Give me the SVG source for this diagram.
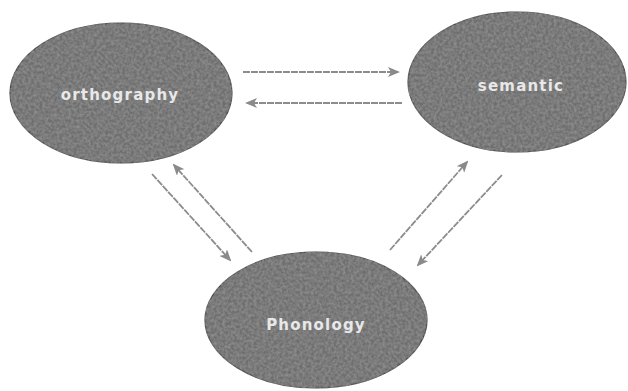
<svg xmlns="http://www.w3.org/2000/svg" width="628" height="391" viewBox="0 0 628 391">
  <defs>
    <filter id="grain" x="-5%" y="-5%" width="110%" height="110%">
      <feTurbulence type="fractalNoise" baseFrequency="0.35" numOctaves="2" seed="3" result="noise"/>
      <feColorMatrix in="noise" type="matrix" values="0 0 0 0 0.3  0 0 0 0 0.3  0 0 0 0 0.3  0 0 0 1.4 -0.4" result="gn"/>
      <feComposite in="gn" in2="SourceAlpha" operator="in" result="gc"/>
      <feMerge>
        <feMergeNode in="SourceGraphic"/>
        <feMergeNode in="gc"/>
      </feMerge>
    </filter>
    <marker id="ah" viewBox="0 0 12 10" refX="10" refY="5" markerWidth="12" markerHeight="10" markerUnits="userSpaceOnUse" orient="auto">
      <path d="M0,0 L12,5 L0,10 L3,5 Z" fill="#8a8a8a"/>
    </marker>
  </defs>
  <style>
    .node { fill: #6e6e6e; stroke: #4a4a4a; stroke-width: 1.2; filter: url(#grain); }
    .lbl { font-family: "DejaVu Sans", sans-serif; font-weight: bold; font-size: 15px; fill: #e8e8e8; text-anchor: middle; letter-spacing: 1.2px; }
    .arr { stroke: #8c8c8c; stroke-width: 1.8; fill: none; stroke-dasharray: 7 1; marker-end: url(#ah); }
  </style>
  <rect width="628" height="391" fill="#ffffff"/>
  <g id="connectors">
    <line class="arr" x1="243" y1="72" x2="398" y2="72"/>
    <line class="arr" x1="402" y1="103" x2="247" y2="103"/>
    <line class="arr" x1="152" y1="174" x2="230" y2="260"/>
    <line class="arr" x1="252" y1="252" x2="174" y2="165"/>
    <line class="arr" x1="390" y1="250" x2="467" y2="162"/>
    <line class="arr" x1="502" y1="175" x2="418" y2="265"/>
  </g>
  <g id="orthography">
    <ellipse class="node" cx="121" cy="93" rx="111" ry="70"/>
    <text class="lbl" x="120" y="100">orthography</text>
  </g>
  <g id="semantic">
    <ellipse class="node" cx="517" cy="82" rx="109" ry="70"/>
    <text class="lbl" x="521" y="91">semantic</text>
  </g>
  <g id="phonology">
    <ellipse class="node" cx="316" cy="320" rx="111" ry="68"/>
    <text class="lbl" x="316" y="330">Phonology</text>
  </g>
</svg>
